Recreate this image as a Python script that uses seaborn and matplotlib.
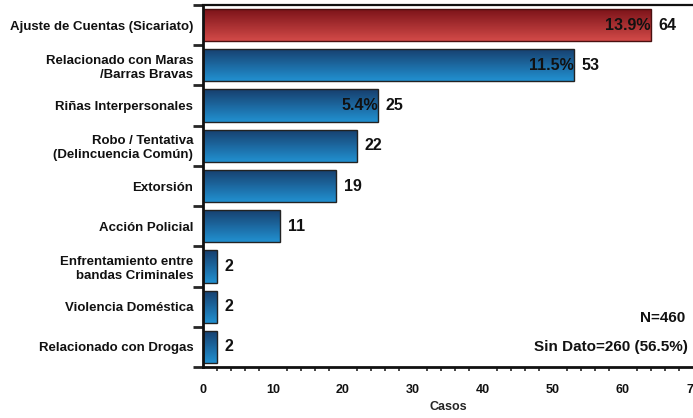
import numpy as np
import pandas as pd
import seaborn as sns
import matplotlib.pyplot as plt
from matplotlib.colors import LinearSegmentedColormap

categorias = ['Ajuste de Cuentas (Sicariato)', 'Relacionado con Maras\n/Barras Bravas',
              'Riñas Interpersonales', 'Robo / Tentativa\n(Delincuencia Común)', 'Extorsión',
              'Acción Policial', 'Enfrentamiento entre\nbandas Criminales', 'Violencia Doméstica',
              'Relacionado con Drogas']
casos = [64, 53, 25, 22, 19, 11, 2, 2, 2]
porcentajes = ['13.9%', '11.5%', '5.4%', '', '', '', '', '', '']

df = pd.DataFrame({'causa': categorias, 'casos': casos})

sns.set_style('white')
plt.rcParams['font.family'] = ['Liberation Sans', 'DejaVu Sans']

fig = plt.figure(figsize=(6.93, 4.18), dpi=100)
ax = fig.add_axes([203 / 693, 1 - 367 / 418, 1 - 203 / 693, (367 - 5) / 418])

sns.barplot(data=df, y='causa', x='casos', orient='h', width=0.8, color='#1f6fae',
            edgecolor='#222222', linewidth=1.0, ax=ax)

rojo = LinearSegmentedColormap.from_list('rojo', ['#7a1218', '#d24a48'])
azul = LinearSegmentedColormap.from_list('azul', ['#173f6e', '#2190d0'])
grad = np.linspace(0, 1, 64).reshape(-1, 1)

for i, p in enumerate(ax.patches):
    x0, y0 = p.get_x(), p.get_y()
    w, h = p.get_width(), p.get_height()
    cmap = rojo if i == 0 else azul
    # gradiente vertical recortado a la barra
    im = ax.imshow(grad, cmap=cmap, aspect='auto', extent=(x0, x0 + w, y0 + h, y0),
                   origin='upper', zorder=p.get_zorder() + 0.1)
    im.set_clip_path(p)
    p.set_facecolor('none')
    p.set_zorder(p.get_zorder() + 0.2)
    if i == 0:
        p.set_edgecolor('#4a1010')
    ax.text(w + 1.1, y0 + h / 2, str(casos[i]), va='center', ha='left',
            fontsize=11.5, fontweight='bold', color='#111111')
    if porcentajes[i]:
        ax.text(w - 0.05, y0 + h / 2, porcentajes[i], va='center', ha='right',
                fontsize=11.5, fontweight='bold', color='#111111', zorder=5)

ax.set_xlim(0, 70)
ax.set_ylim(len(categorias) - 0.5, -0.5)
ax.set_xticks(range(0, 71, 10))
ax.set_xticks(range(0, 71, 2), minor=True)
ax.tick_params(axis='x', which='major', length=4, width=1.5, labelsize=9, pad=8)
ax.tick_params(axis='x', which='minor', length=3, width=1.2, bottom=True)
ax.set_yticks(np.arange(-0.5, len(categorias), 1), minor=True)
ax.tick_params(axis='y', which='major', length=0, labelsize=9.5, pad=7)
ax.tick_params(axis='y', which='minor', length=7, width=2, left=True)
for lab in ax.get_xticklabels() + ax.get_yticklabels():
    lab.set_fontweight('bold')
    lab.set_color('#111111')

ax.set_xlabel('Casos', fontsize=9, fontweight='bold', labelpad=4)
ax.set_ylabel('')

for s in ['left', 'bottom']:
    ax.spines[s].set_linewidth(2)
    ax.spines[s].set_color('#111111')
ax.spines['top'].set_linewidth(1.6)
ax.spines['top'].set_color('#111111')
ax.spines['right'].set_visible(False)

ax.text(0.985, 0.135, 'N=460', transform=ax.transAxes, ha='right', va='center',
        fontsize=11, fontweight='bold', color='#111111')
ax.text(0.99, 0.055, 'Sin Dato=260 (56.5%)', transform=ax.transAxes, ha='right', va='center',
        fontsize=11, fontweight='bold', color='#111111')

fig.savefig('out.png', dpi=100)
